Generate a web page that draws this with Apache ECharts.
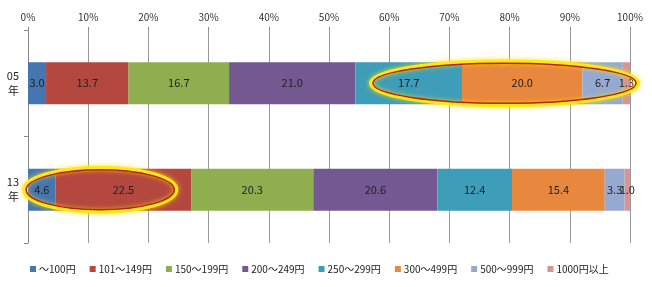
<!DOCTYPE html>
<html>
<head>
<meta charset="utf-8">
<script src="https://cdn.jsdelivr.net/npm/echarts@6/dist/echarts.min.js"></script>
<style>
  html, body { margin: 0; padding: 0; background: #fff; }
  #chart { width: 652px; height: 287px; }
</style>
</head>
<body>
<div id="chart"></div>
<script>
const years = ['05\n年', '13\n年'];
const priceBands = ['～100円', '101～149円', '150～199円', '200～249円', '250～299円', '300～499円', '500～999円', '1000円以上'];
const shares05 = [3.0, 13.7, 16.7, 21.0, 17.7, 20.0, 6.7, 1.3];
const shares13 = [4.6, 22.5, 20.3, 20.6, 12.4, 15.4, 3.3, 1.0];
const colors = ['#4676B0', '#B4483F', '#8FAE50', '#735892', '#3E9DB8', '#E8873E', '#95A9D2', '#D69593'];

const font = '"Noto Sans CJK JP", "DejaVu Sans", sans-serif';
const chart = echarts.init(document.getElementById('chart'));

const series = priceBands.map((name, i) => ({
  name,
  type: 'bar',
  stack: 'total',
  barWidth: 42,
  data: [shares05[i], shares13[i]],
  itemStyle: { color: colors[i] },
  label: {
    show: true,
    position: 'inside',
    color: '#222',
    fontSize: 11,
    fontFamily: font,
    formatter: p => p.value.toFixed(1)
  }
}));

chart.setOption({
  animation: false,
  grid: { left: 28, right: 22, top: 30, bottom: 44 },
  legend: {
    bottom: 8,
    left: 25,
    itemWidth: 6,
    itemHeight: 6,
    itemGap: 14,
    icon: 'rect',
    textStyle: { fontSize: 10, color: '#222', fontFamily: font, padding: [0, 0, 0, -2] },
    data: priceBands
  },
  xAxis: {
    type: 'value',
    position: 'top',
    min: 0,
    max: 100,
    interval: 10,
    axisLine: { show: false },
    axisTick: { show: true, length: 3, lineStyle: { color: '#888' } },
    axisLabel: { formatter: '{value}%', fontSize: 10, color: '#333', fontFamily: font, margin: 8 },
    splitLine: { show: true, lineStyle: { color: '#999' } }
  },
  yAxis: {
    type: 'category',
    inverse: true,
    data: years,
    axisLine: { show: true, lineStyle: { color: '#888' } },
    axisTick: { show: true, length: 4, lineStyle: { color: '#888' } },
    axisLabel: { fontSize: 11, color: '#222', fontFamily: font, margin: 9, lineHeight: 15 }
  },
  series
});

// highlight rings, placed through the axes
function ring(fromPct, toPct, cat) {
  const a = chart.convertToPixel({ gridIndex: 0 }, [fromPct, cat]);
  const b = chart.convertToPixel({ gridIndex: 0 }, [toPct, cat]);
  const inner = { cx: (a[0] + b[0]) / 2, cy: a[1], rx: (b[0] - a[0]) / 2, ry: 20 };
  const outer = { cx: inner.cx, cy: inner.cy, rx: inner.rx + 2, ry: inner.ry + 2 };
  return [
    { type: 'ellipse', shape: outer, silent: true, z: 100,
      style: { fill: 'none', stroke: '#FFE81A', lineWidth: 4, shadowBlur: 5, shadowColor: 'rgba(255,225,0,0.9)' } },
    { type: 'ellipse', shape: inner, silent: true, z: 101,
      style: { fill: 'none', stroke: '#B8220E', lineWidth: 1.5 } }
  ];
}

chart.setOption({
  graphic: [...ring(57.3, 101.0, 0), ...ring(-0.3, 24.3, 1)]
});
</script>
</body>
</html>
